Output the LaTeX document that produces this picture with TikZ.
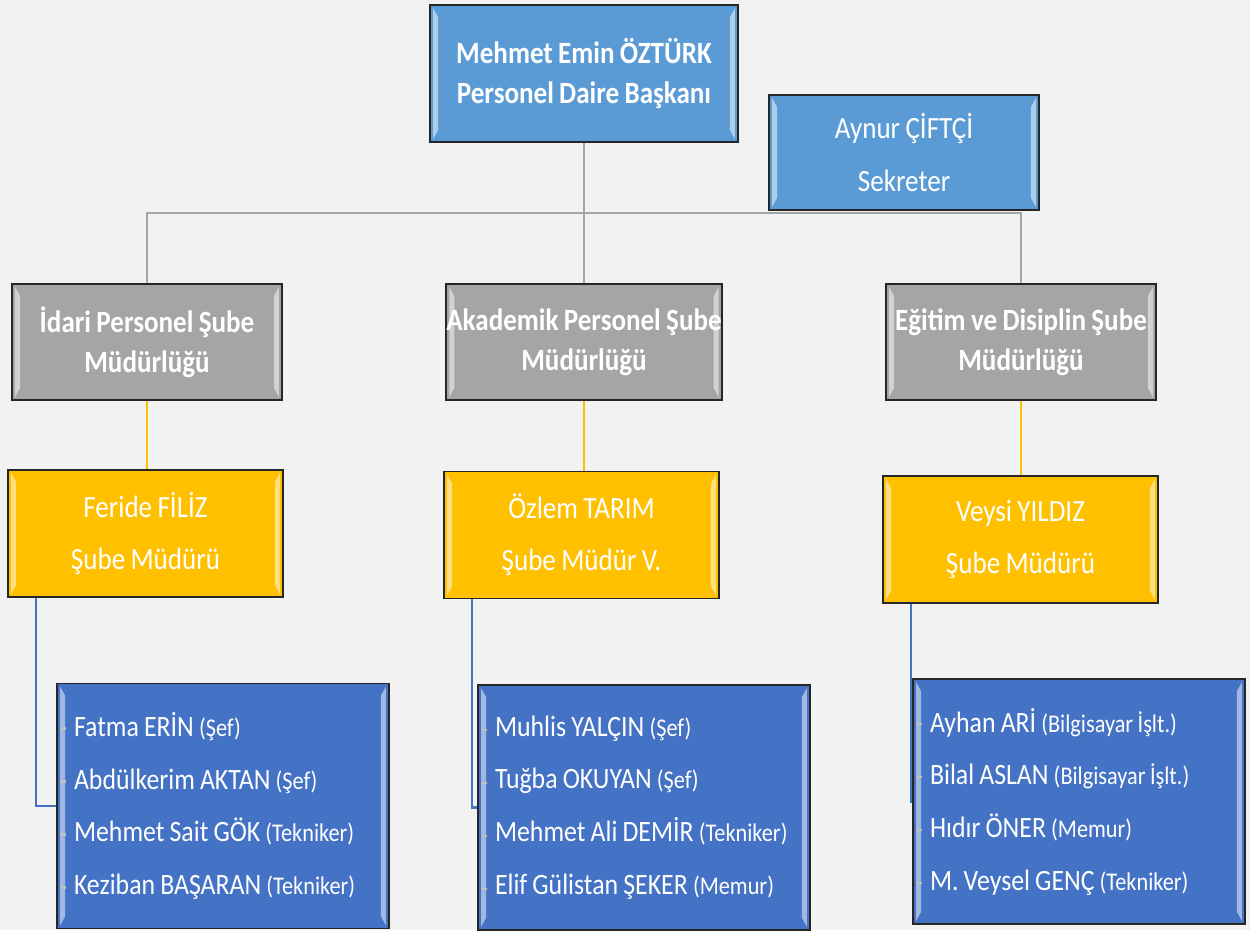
\documentclass[tikz,border=0pt]{standalone}
\usepackage{fontspec}
\setmainfont{Carlito}[FakeStretch=0.875, WordSpace=0.875]
\usetikzlibrary{calc}
\definecolor{bgGray}{HTML}{F2F2F2}
\definecolor{headBlue}{HTML}{5B9BD5}
\definecolor{unitGray}{HTML}{A5A5A5}
\definecolor{chiefGold}{HTML}{FFC000}
\definecolor{staffBlue}{HTML}{4472C4}
\newcommand\unvan[1]{{\fontsize{14.5}{18}\selectfont(#1)}}

\begin{document}
\begin{tikzpicture}[x=0.02cm, y=-0.02cm,
  bevel/.style={path picture={
    \fill[white,opacity=.5] ([shift={(0.06cm,-0.06cm)}]path picture bounding box.north west) -- ([shift={(0.16cm,-0.24cm)}]path picture bounding box.north west) -- ([shift={(0.16cm,0.24cm)}]path picture bounding box.south west) -- ([shift={(0.06cm,0.06cm)}]path picture bounding box.south west) -- cycle;
    \fill[white,opacity=.5] ([shift={(-0.06cm,-0.06cm)}]path picture bounding box.north east) -- ([shift={(-0.16cm,-0.24cm)}]path picture bounding box.north east) -- ([shift={(-0.16cm,0.24cm)}]path picture bounding box.south east) -- ([shift={(-0.06cm,0.06cm)}]path picture bounding box.south east) -- cycle;}},
  orgbox/.style={draw=black!85, line width=1pt, text=white, align=center, inner sep=0pt, bevel},
  headbox/.style={orgbox, fill=headBlue, font=\bfseries\fontsize{17.6}{22.7}\selectfont},
  secbox/.style={orgbox, fill=headBlue, font=\fontsize{17.6}{30}\selectfont},
  unitbox/.style={orgbox, fill=unitGray, font=\bfseries\fontsize{17.6}{22.5}\selectfont, minimum width=5.4cm, minimum height=2.32cm},
  chiefbox/.style={orgbox, fill=chiefGold, font=\fontsize{17.6}{29.5}\selectfont, minimum width=5.5cm, minimum height=2.54cm},
  staffbox/.style={orgbox, fill=staffBlue, align=flush left, font=\fontsize{16.8}{30}\selectfont, inner xsep=0.34cm, text width=5.96cm, minimum height=4.9cm},
  grayline/.style={draw=unitGray, line width=1.2pt},
  goldline/.style={draw=chiefGold, line width=1.2pt},
  blueline/.style={draw=staffBlue, line width=1.2pt},
  bullettick/.style={draw=black!25, line width=1.2pt}
]
\fill[bgGray] (0,0) rectangle (1250,930);
\useasboundingbox (0,0) rectangle (1250,930);

\node[headbox, minimum width=6.16cm, minimum height=2.74cm] (head) at (584,73.5) {Mehmet Emin ÖZTÜRK\\Personel Daire Başkanı};
\node[secbox, minimum width=5.4cm, minimum height=2.3cm] (sekreter) at (904,152.5) {Aynur ÇİFTÇİ\\Sekreter};

\node[unitbox] (idari) at (147,342) {İdari Personel Şube\\Müdürlüğü};
\node[unitbox] (akademik) at (584,342) {Akademik Personel Şube\\Müdürlüğü};
\node[unitbox] (egitim) at (1021,342) {Eğitim ve Disiplin Şube\\Müdürlüğü};

\node[chiefbox] (filiz) at (145.5,533.5) {Feride FİLİZ\\Şube Müdürü};
\node[chiefbox] (tarim) at (581.5,535) {Özlem TARIM\\Şube Müdür V.};
\node[chiefbox] (yildiz) at (1020.5,539.5) {Veysi YILDIZ\\Şube Müdürü};

\node[staffbox] (idariStaff) at (223,806) {Fatma ERİN \unvan{Şef}\\Abdülkerim AKTAN \unvan{Şef}\\Mehmet Sait GÖK \unvan{Tekniker}\\Keziban BAŞARAN \unvan{Tekniker}};
\node[staffbox] (akademikStaff) at (644,807.5) {Muhlis YALÇIN \unvan{Şef}\\Tuğba OKUYAN \unvan{Şef}\\Mehmet Ali DEMİR \unvan{Tekniker}\\Elif Gülistan ŞEKER \unvan{Memur}};
\node[staffbox] (egitimStaff) at (1079,801.5) {Ayhan ARİ \unvan{Bilgisayar İşlt.}\\Bilal ASLAN \unvan{Bilgisayar İşlt.}\\Hıdır ÖNER \unvan{Memur}\\M. Veysel GENÇ \unvan{Tekniker}};

\coordinate (bar) at (584,213);
\draw[grayline] (head.south) -- (akademik.north);
\draw[grayline] (idari.north) |- (bar) -| (egitim.north);

\draw[goldline] (idari.south) -- (idari.south |- filiz.north);
\draw[goldline] (akademik.south) -- (akademik.south |- tarim.north);
\draw[goldline] (egitim.south) -- (egitim.south |- yildiz.north);

\draw[blueline] ([xshift=0.58cm]filiz.south west) |- (idariStaff.west);
\draw[blueline] ([xshift=0.58cm]tarim.south west) |- (akademikStaff.west);
\draw[blueline] ([xshift=0.58cm]yildiz.south west) |- (egitimStaff.west);

\foreach \s in {idariStaff,akademikStaff,egitimStaff}
  \foreach \dy in {1.55,0.49,-0.57,-1.63}
    \draw[bullettick] ([shift={(0.08cm,\dy cm)}]\s.west) -- ++(0.12cm,0);
\end{tikzpicture}
\end{document}
